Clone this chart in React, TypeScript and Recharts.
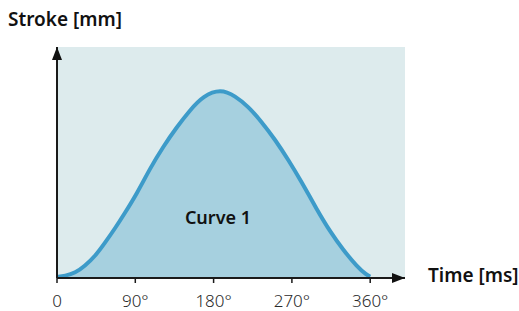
import { Area, AreaChart, CartesianGrid, ReferenceDot, XAxis, YAxis } from 'recharts';

// curve: angle in degrees, stroke in mm
const angles = [0, 9, 21, 32, 44, 55, 67, 78, 92, 107, 122, 138, 153, 168, 188, 205, 220, 235, 251, 266, 281, 299, 314, 329, 345, 356, 360];
const stroke = [0.13, 0.22, 0.54, 1.3, 2.38, 3.79, 5.41, 7.03, 9.17, 11.87, 14.21, 16.37, 18.18, 19.7, 20.45, 19.7, 18.54, 16.92, 14.94, 12.77, 10.42, 7.36, 5.01, 3.03, 1.22, 0.32, 0.14];
const xTicks = [0, 90, 180, 270, 360];
const tickLabels = ['0', '90°', '180°', '270°', '360°'];

const data = angles.map((a, i) => ({ angle: a, stroke: stroke[i] }));

const font = '"Noto Sans", sans-serif';

const App = () => {
  return (
    <div style={{ position: 'absolute', left: 0, top: 0, width: 519, height: 311, fontFamily: font }}>
      <svg width={0} height={0} style={{ position: 'absolute' }}>
        <defs>
          <marker
            id="arrow"
            viewBox="0 0 13 10"
            refX={13}
            refY={5}
            markerWidth={13}
            markerHeight={10}
            markerUnits="userSpaceOnUse"
            orient="auto-start-reverse"
          >
            <path d="M0,0 L13,5 L0,10 z" fill="#111" />
          </marker>
        </defs>
      </svg>
      <div style={{ position: 'absolute', left: 8, top: 10, fontSize: 19, lineHeight: 1, fontWeight: 600, color: '#111' }}>
        Stroke [mm]
      </div>
      <div style={{ position: 'absolute', left: 428, top: 266, fontSize: 19, lineHeight: 1, fontWeight: 600, color: '#111' }}>
        Time [ms]
      </div>
      <AreaChart width={519} height={311} data={data} margin={{ top: 47, right: 114, left: 56, bottom: 0 }}>
        <CartesianGrid horizontal={false} vertical={false} fill="#ddebed" fillOpacity={1} />
        <XAxis
          dataKey="angle"
          type="number"
          domain={[0, 400]}
          ticks={xTicks}
          tickFormatter={(v: number) => tickLabels[xTicks.indexOf(v)]}
          height={33}
          tickSize={5}
          tickMargin={12}
          axisLine={{ stroke: '#1a1a1a', strokeWidth: 2, markerEnd: 'url(#arrow)' }}
          tickLine={{ stroke: '#1a1a1a', strokeWidth: 1.5 }}
          tick={{ fill: '#2a2a2a', fontSize: 17, fontWeight: 300, fontFamily: font }}
        />
        <YAxis
          type="number"
          domain={[0, 25]}
          width={1}
          tick={false}
          tickLine={false}
          axisLine={{ stroke: '#1a1a1a', strokeWidth: 2, markerStart: 'url(#arrow)' }}
        />
        <Area
          type="basis"
          dataKey="stroke"
          stroke="#3d9bc9"
          strokeWidth={4}
          fill="#a6d0df"
          fillOpacity={1}
          isAnimationActive={false}
        />
        <ReferenceDot
          x={185}
          y={6.5}
          r={0}
          stroke="none"
          label={{ value: 'Curve 1', position: 'center', fill: '#111', fontSize: 18, fontWeight: 600, fontFamily: font }}
        />
      </AreaChart>
    </div>
  );
};

export default App;
